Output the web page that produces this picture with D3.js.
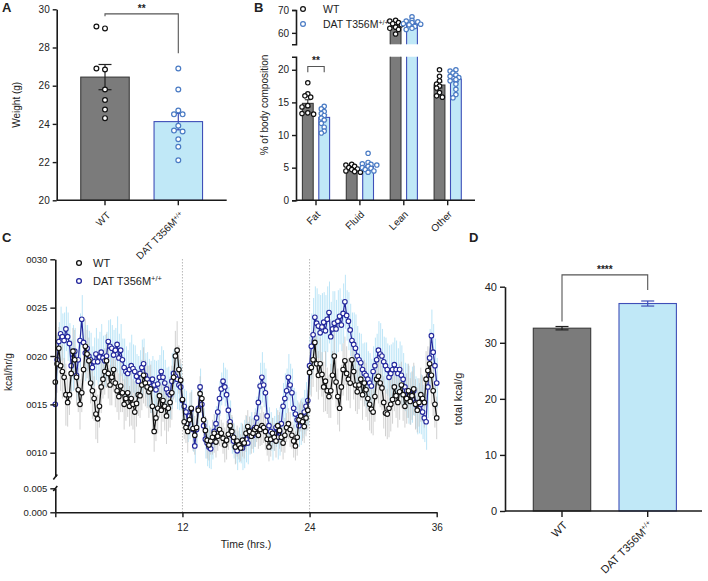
<!DOCTYPE html>
<html><head><meta charset="utf-8">
<script src="https://cdn.jsdelivr.net/npm/d3@7"></script>
<style>
body{margin:0;background:#fff}
text{font-family:"Liberation Sans",Arial,Helvetica,sans-serif;fill:#222}
</style>
</head><body>
<svg id="fig" width="708" height="581"></svg>
<script>
// ---------------- DATA ----------------
const groups = ["WT", "DAT T356M"];
const groupSup = ["", "+/+"];

// Panel A: body weight (g)
const weightWT  = [29.0, 29.1, 26.85, 26.9, 25.8, 25.25, 24.75, 24.3];
const weightDAT = [26.9, 25.8, 24.7, 24.5, 24.5, 23.9, 23.65, 23.6, 23.2, 22.8, 22.1];
const weightMean = [26.45, 24.12];
const weightSEM  = [0.66, 0.43];
const weightTicks = [20, 22, 24, 26, 28, 30];
const sigA = "**";

// Panel B: % of body composition
const compCats = ["Fat", "Fluid", "Lean", "Other"];
const compWTPoints = [
  [18.0, 16.3, 16.0, 15.8, 14.5, 14.3, 13.4, 13.3, 13.2],
  [5.5, 5.4, 5.2, 5.0, 4.8, 4.7, 4.5, 4.4, 4.3],
  [65.5, 65.2, 64.5, 64.0, 63.5, 62.5, 62.0, 61.5, 59.5],
  [20.0, 19.0, 18.3, 17.8, 17.5, 17.2, 16.5, 16.0, 15.8]
];
const compDATPoints = [
  [14.4, 14.0, 13.6, 13.3, 13.0, 12.6, 12.3, 11.8, 11.2, 10.6, 10.3],
  [7.2, 5.8, 5.6, 5.5, 5.4, 5.2, 5.0, 4.9, 4.7, 4.5, 4.3],
  [67.0, 65.5, 65.2, 64.8, 64.5, 64.0, 63.8, 63.5, 62.8, 62.0, 61.5],
  [20.0, 19.8, 19.5, 19.2, 19.0, 18.8, 18.5, 18.3, 17.8, 17.0, 16.2, 15.7]
];
const compMeanWT  = [14.85, 4.84, 62.95, 17.66];
const compMeanDAT = [12.7, 5.15, 64.1, 18.57];
const compSemWT   = [0.55, 0.14, 0.6, 0.45];
const compSemDAT  = [0.4, 0.22, 0.45, 0.4];
const compTicksLow = [0, 5, 10, 15, 20];
const compTicksHigh = [60, 70];
const sigB = "**";

// Panel C: energy expenditure, units of 1e-4 kcal/hr/g, one sample per 10 min (6 per hour)
const sampleHrs = 1 / 6;
const eeWT = [
 17.3,19.2,20.8,19.0,18.4,17.8, 16.0,15.2,16.0,18.2,20.5,19.6, 17.8,16.5,15.0,16.2,18.6,21.0,
 20.2,19.5,17.2,16.4,15.6,14.0, 13.5,14.8,16.8,17.6,18.4,19.5, 18.2,17.0,17.8,18.6,17.2,16.4,
 15.8,16.9,16.2,15.0,15.6,16.2, 14.8,15.6,15.0,14.2,15.1,16.0, 15.9,17.0,18.0,17.2,16.8,16.3,
 16.6,14.8,12.2,13.6,14.6,15.9, 14.4,15.4,14.8,13.8,14.6,15.2, 16.2,17.8,20.0,20.6,18.6,17.5,
 15.5,13.2,12.6,12.2,13.4,14.6, 12.5,11.8,12.6,14.4,16.1,15.6, 13.4,12.3,11.3,10.8,11.2,11.6,
 12.0,11.1,11.7,12.4,12.0,11.5, 10.8,11.3,11.9,12.8,12.2,11.6, 10.6,11.2,10.8,10.5,11.3,11.0,
 12.0,12.7,12.2,11.7,12.0,12.4, 12.6,11.8,12.4,12.8,12.6,12.2, 11.4,10.6,11.4,12.0,11.6,11.2,
 12.8,12.3,11.6,11.0,11.8,12.6, 13.0,12.4,11.8,11.2,10.7,11.6, 13.4,13.8,13.2,12.7,13.6,14.4,
 18.3,18.8,19.6,21.4,19.2,18.0, 19.2,18.1,16.8,17.4,16.4,15.8, 16.4,18.0,20.0,17.3,15.8,14.6,
 16.8,18.6,19.5,18.2,17.6,17.2, 19.6,18.4,17.0,16.3,17.0,17.6, 16.0,17.2,16.5,15.6,15.0,14.5,
 14.2,15.8,17.6,17.9,17.2,16.7, 15.2,14.1,14.0,14.6,15.0,15.5, 16.8,15.9,15.2,16.3,17.0,16.0,
 14.8,15.6,16.4,15.3,15.9,16.6, 15.0,14.4,15.2,16.0,15.6,15.2, 17.6,18.5,19.2,18.0,16.4,15.0,
 13.6];
const eeDAT = [
 15.0,19.6,21.5,22.3,22.0,21.6, 22.8,22.0,21.3,19.0,19.8,20.5, 18.0,19.6,21.6,23.8,21.4,20.3,
 20.8,20.0,19.6,18.8,19.4,20.2, 19.4,19.9,20.4,19.8,19.5,20.0, 21.5,21.0,20.8,20.1,20.6,21.2,
 19.8,20.6,19.6,18.8,18.4,18.2, 18.6,19.0,18.7,18.4,17.9,17.4, 18.2,18.8,19.2,18.0,17.6,17.2,
 16.8,17.6,17.0,16.5,17.1,17.8, 18.4,17.8,17.2,16.6,16.2,16.0, 17.4,18.2,17.9,17.6,17.0,16.8,
 15.4,14.8,14.2,13.0,13.8,14.5, 12.4,10.7,12.4,14.6,16.8,15.0, 12.8,11.4,11.0,10.6,10.4,11.2,
 12.2,13.0,14.2,15.6,16.6,17.4, 16.8,16.0,14.4,13.2,11.8,11.2, 10.6,10.2,10.8,11.0,10.5,10.9,
 11.4,11.0,11.8,12.3,11.8,12.6, 13.6,15.2,16.9,17.8,17.0,16.2, 13.8,12.8,12.2,11.4,12.0,12.6,
 11.6,12.2,13.0,14.8,15.6,16.4, 17.8,17.0,16.2,14.6,14.0,13.4, 12.8,13.2,13.6,14.2,14.8,15.4,
 19.0,21.0,22.2,24.0,23.4,23.1, 22.4,23.0,23.5,22.6,23.8,24.5, 22.0,22.8,23.4,22.8,23.6,24.1,
 23.2,24.4,25.6,24.2,23.6,22.7, 21.6,21.2,20.8,20.0,19.6,19.3, 18.6,18.2,18.0,17.6,17.2,16.9,
 18.4,19.0,19.6,20.6,20.2,20.0, 19.4,19.0,18.6,17.8,18.2,18.6, 19.1,18.6,18.2,18.6,18.0,17.6,
 16.8,16.4,16.0,15.6,16.0,16.4, 15.2,14.8,14.6,15.0,14.2,13.6, 13.2,16.8,19.8,22.1,20.4,19.0,
 17.2];
const sdWT = [
 2.4,3.0,2.2,2.6,2.8,2.0, 3.2,2.5,2.1,2.7,2.4,3.1, 2.9,2.3,2.6,2.0,2.2,2.8, 2.5,2.4,2.1,2.9,2.3,2.6,
 2.5,2.2,2.7,2.0,2.4,2.8, 2.6,2.1,2.9,2.3,2.5,2.2, 2.4,2.7,2.0,2.6,2.3,2.5, 2.1,2.8,2.6,3.2,2.4,2.2,
 2.3,2.6,2.9,2.4,2.2,2.7, 2.5,2.8,2.1,2.4,2.6,2.3, 2.7,2.2,2.5,2.9,2.4,2.6, 2.8,2.3,2.6,3.0,2.5,2.2,
 2.0,1.8,1.6,2.2,1.5,1.7, 2.3,2.0,1.6,1.4,1.8,1.5, 1.7,1.5,1.9,1.6,1.4,1.8, 2.0,1.6,1.5,1.7,1.4,1.6,
 1.8,2.0,1.6,1.9,1.7,1.5, 1.8,1.6,1.5,1.4,1.7,1.6, 1.9,1.7,1.5,1.8,1.6,1.8, 1.5,1.4,1.7,2.0,1.6,1.9,
 1.7,1.5,1.8,1.6,1.4,1.7, 1.6,1.9,1.5,1.7,1.8,1.5, 1.6,1.8,1.4,1.7,1.5,1.9, 1.8,1.6,2.0,1.7,1.9,2.1,
 2.6,3.0,2.8,2.4,2.9,2.5, 2.7,2.3,2.6,3.1,2.4,2.2, 2.8,2.5,2.7,2.6,2.9,2.4, 2.3,2.7,2.5,2.8,2.2,2.6,
 2.4,2.9,2.7,2.3,2.5,2.2, 2.6,2.4,2.8,2.3,2.7,2.5, 2.4,2.6,2.2,2.8,2.5,2.3, 2.7,2.4,2.6,3.0,2.8,2.5,
 2.5,2.3,2.6,2.9,2.4,2.7, 2.2,2.6,2.8,2.4,2.5,2.7, 2.6,2.3,2.5,2.8,2.4,2.6, 2.9,2.5,2.7,3.0,2.6,2.4,
 2.2];
const sdDAT = [
 2.2,2.6,2.0,2.8,2.4,2.9, 2.3,2.5,2.1,2.7,3.4,2.4, 2.6,2.2,2.8,2.5,2.3,2.9, 2.4,2.6,2.8,2.2,2.5,2.7,
 2.4,2.6,2.9,2.3,2.7,2.5, 2.2,2.8,2.4,2.6,2.3,2.9, 2.5,2.7,2.2,3.0,2.6,2.4, 2.8,3.2,2.5,2.7,2.3,2.6,
 2.4,2.9,2.6,2.3,2.8,2.5, 2.7,2.4,2.6,3.0,2.5,2.3, 2.6,2.8,2.4,2.2,2.7,2.5, 2.9,2.5,2.7,3.1,2.6,2.4,
 2.0,1.8,2.2,1.9,2.4,2.0, 2.3,1.8,1.7,2.1,1.9,1.6, 1.8,2.0,2.4,2.2,2.1,1.9, 1.7,1.8,1.6,1.8,1.7,1.9,
 2.0,2.6,2.4,2.2,1.9,1.8, 1.7,2.0,1.8,2.1,2.3,2.5, 2.4,2.2,2.0,1.9,1.8,2.0, 2.2,2.1,2.4,2.6,2.3,2.5,
 2.1,1.9,2.0,2.2,1.8,2.0, 2.3,2.5,2.2,2.4,2.6,2.3, 2.4,2.2,2.5,2.1,2.3,2.0, 2.2,2.4,2.1,2.3,2.5,2.6,
 3.0,3.4,3.8,3.2,3.6,3.3, 3.9,3.5,3.1,3.7,3.4,3.2, 3.6,3.9,3.3,3.0,3.2,2.9, 2.7,3.1,2.8,2.6,3.0,2.7,
 2.9,3.3,3.5,3.1,2.8,3.0, 2.7,3.2,3.4,2.9,3.1,2.8, 2.6,2.9,2.7,3.0,3.2,2.8, 2.6,2.9,2.7,3.3,3.0,2.8,
 2.8,3.0,2.6,2.9,3.1,2.7, 2.5,2.8,3.0,2.7,2.9,2.6, 2.7,2.9,2.6,3.1,2.8,2.5, 2.9,3.2,3.0,2.7,2.9,2.8,
 2.6];
const eeTicksHigh = [0.0010, 0.0015, 0.0020, 0.0025, 0.0030];
const eeTickLabelsHigh = ["0010", "0015", "0020", "0025", "0030"];
const eeTicksLow = [0.000, 0.005];
const eeTickLabelsLow = ["0.000", "0.005"];
const timeTicks = [0, 12, 24, 36];
const timeTickLabels = ["", "12", "24", "36"];
const phaseLines = [12, 24];

// Panel D: total kcal/g
const totalMean = [32.6, 37.0];
const totalSEM  = [0.3, 0.45];
const totalTicks = [0, 10, 20, 30, 40];
const sigD = "****";

// ---------------- STYLE ----------------
const C_AX = "#1a1a1a", C_BARG = "#7b7b7b", C_BARG_E = "#3a3a3a",
      C_BARB = "#c0e8f7", C_BARB_E = "#3f4fb8", C_DOTB = "#4a7bc4",
      C_LINEB = "#23279c", C_ERRG = "#c4c4c4", C_ERRB = "#b4e2f6", C_SIG = "#555";

const svg = d3.select("#fig");

function styleAxis(g, fs) {
  g.selectAll("path.domain").attr("stroke", C_AX).attr("stroke-width", 1.6);
  g.selectAll(".tick line").attr("stroke", C_AX).attr("stroke-width", 1.4);
  g.selectAll(".tick text").attr("fill", "#222").style("font-size", (fs||10) + "px")
    .style("font-family", '"Liberation Sans",Arial,sans-serif');
}
function rotLabel(x, y, main, sup, fs) {
  const t = svg.append("text").attr("transform", `translate(${x},${y}) rotate(-45)`)
    .attr("text-anchor", "end").style("font-size", fs + "px");
  t.append("tspan").text(main);
  if (sup) t.append("tspan").attr("baseline-shift", "super").style("font-size", (fs*0.65) + "px").text(sup);
}
function swarm(vals, ys, cx, r, step, minD) {
  const placed = [];
  const md = minD || 2*r + 0.4;
  return vals.map(v => {
    const y = ys(v);
    const c = [0, -step, step, -2*step, 2*step, -3*step, 3*step];
    for (const o of c) {
      if (placed.every(p => Math.hypot(p.x - (cx + o), p.y - y) >= md)) {
        const p = {x: cx + o, y}; placed.push(p); return p;
      }
    }
    const p = {x: cx, y}; placed.push(p); return p;
  });
}
function dots(pts, stroke, r) {
  svg.append("g").selectAll("circle").data(pts).join("circle")
    .attr("cx", d => d.x).attr("cy", d => d.y).attr("r", r)
    .attr("fill", "#fff").attr("stroke", stroke).attr("stroke-width", 1.2);
}
function errBar(x, y1, y2, w, color, sw) {
  const g = svg.append("g").attr("stroke", color).attr("stroke-width", sw || 1.2);
  g.append("line").attr("x1", x).attr("x2", x).attr("y1", y1).attr("y2", y2);
  g.append("line").attr("x1", x - w/2).attr("x2", x + w/2).attr("y1", y1).attr("y2", y1);
  g.append("line").attr("x1", x - w/2).attr("x2", x + w/2).attr("y1", y2).attr("y2", y2);
}
function bracket(x1, x2, yTop, yL, yR, label, fs) {
  svg.append("path").attr("d", `M${x1},${yL}V${yTop}H${x2}V${yR}`)
    .attr("fill", "none").attr("stroke", C_SIG).attr("stroke-width", 1.1);
  svg.append("text").attr("x", (x1 + x2)/2).attr("y", yTop - 2).attr("text-anchor", "middle")
    .style("font-size", (fs||10) + "px").style("font-weight", "bold").attr("fill", "#333").text(label);
}
function panelLetter(x, y, s) {
  svg.append("text").attr("x", x).attr("y", y).style("font-size", "13px")
    .style("font-weight", "bold").attr("fill", "#000").text(s);
}

// ---------------- PANEL A ----------------
{
  const x0 = 56.7, x1 = 226.7;
  const y = d3.scaleLinear().domain([20, 30]).range([200.3, 9.3]);
  const x = d3.scalePoint().domain(groups).range([105, 178.3]);
  const bw = 48.5;
  const fills = [C_BARG, C_BARB], edges = [C_BARG_E, C_BARB_E];
  groups.forEach((g, i) => {
    svg.append("rect").attr("x", x(g) - bw/2).attr("width", bw)
      .attr("y", y(weightMean[i])).attr("height", y(20) - y(weightMean[i]))
      .attr("fill", fills[i]).attr("stroke", edges[i]).attr("stroke-width", 1.1);
  });
  errBar(x(groups[0]), y(weightMean[0] + weightSEM[0]), y(weightMean[0] - weightSEM[0]), 13, "#222");
  errBar(x(groups[1]), y(weightMean[1] + weightSEM[1]), y(weightMean[1] - weightSEM[1]), 13, C_BARB_E);
  dots(swarm(weightWT, y, x(groups[0]), 2.4, 4.3), "#111", 2.4);
  dots(swarm(weightDAT, y, x(groups[1]), 2.4, 4.3), C_DOTB, 2.4);
  const ga = svg.append("g").attr("transform", `translate(${x0},0)`)
    .call(d3.axisLeft(y).tickValues(weightTicks).tickSize(4).tickSizeOuter(0).tickFormat(d3.format("d")));
  styleAxis(ga, 10);
  svg.append("line").attr("x1", x0).attr("x2", x1).attr("y1", y(20)).attr("y2", y(20))
    .attr("stroke", C_AX).attr("stroke-width", 1.6);
  groups.forEach((g, i) => {
    svg.append("line").attr("x1", x(g)).attr("x2", x(g)).attr("y1", y(20)).attr("y2", y(20) + 5)
      .attr("stroke", C_AX).attr("stroke-width", 1.4);
    rotLabel(x(g) + 6, 216, g, groupSup[i], 10);
  });
  svg.append("text").attr("transform", `translate(20,${(y(20)+y(30))/2}) rotate(-90)`)
    .attr("text-anchor", "middle").style("font-size", "10px").text("Weight (g)");
  bracket(x(groups[0]), x(groups[1]), y(29.76), y(29.64), y(27.7), sigA);
  panelLetter(2, 12, "A");
}

// ---------------- PANEL B ----------------
{
  const x0 = 296, x1 = 475;
  const yLo = d3.scaleLinear().domain([0, 22]).range([200.3, 56.7]);
  const yHi = d3.scaleLinear().domain([55, 70]).range([44.3, 10]);
  const x = d3.scalePoint().domain(compCats).range([316, 447.7]);
  const bw = 10.8, off = 8.2;
  const yOf = v => v > 22 ? yHi(v) : yLo(v);
  function drawBar(cx, mean, fill, edge) {
    if (mean <= 22) {
      svg.append("rect").attr("x", cx - bw/2).attr("width", bw).attr("y", yLo(mean))
        .attr("height", yLo(0) - yLo(mean)).attr("fill", fill).attr("stroke", edge).attr("stroke-width", 1.1);
    } else {
      svg.append("path").attr("d", `M${cx-bw/2},${yLo(22)}V${yLo(0)}H${cx+bw/2}V${yLo(22)}`)
        .attr("fill", fill).attr("stroke", edge).attr("stroke-width", 1.1);
      svg.append("path").attr("d", `M${cx-bw/2},${yHi(55)}V${yHi(mean)}H${cx+bw/2}V${yHi(55)}`)
        .attr("fill", fill).attr("stroke", edge).attr("stroke-width", 1.1);
    }
  }
  compCats.forEach((c, i) => {
    const cw = x(c) - off, cd = x(c) + off;
    drawBar(cw, compMeanWT[i], C_BARG, C_BARG_E);
    drawBar(cd, compMeanDAT[i], C_BARB, C_BARB_E);
    errBar(cw, yOf(compMeanWT[i] + compSemWT[i]), yOf(compMeanWT[i] - compSemWT[i]), 6, "#222", 1);
    errBar(cd, yOf(compMeanDAT[i] + compSemDAT[i]), yOf(compMeanDAT[i] - compSemDAT[i]), 6, C_BARB_E, 1);
    const ysc = compMeanWT[i] > 22 ? yHi : yLo;
    dots(swarm(compWTPoints[i], ysc, cw, 2.2, 2.9, 3.4), "#111", 2.2);
    dots(swarm(compDATPoints[i], ysc, cd, 2.2, 2.9, 3.4), C_DOTB, 2.2);
  });
  const gl = svg.append("g").attr("transform", `translate(${x0},0)`)
    .call(d3.axisLeft(yLo).tickValues(compTicksLow).tickSize(4).tickSizeOuter(4));
  styleAxis(gl, 10);
  const gh = svg.append("g").attr("transform", `translate(${x0},0)`)
    .call(d3.axisLeft(yHi).tickValues(compTicksHigh).tickSize(4).tickSizeOuter(4));
  styleAxis(gh, 10);
  svg.append("line").attr("x1", x0).attr("x2", x1).attr("y1", yLo(0)).attr("y2", yLo(0))
    .attr("stroke", C_AX).attr("stroke-width", 1.6);
  compCats.forEach(c => {
    svg.append("line").attr("x1", x(c)).attr("x2", x(c)).attr("y1", yLo(0)).attr("y2", yLo(0) + 5)
      .attr("stroke", C_AX).attr("stroke-width", 1.4);
    rotLabel(x(c) + 5, 215, c, "", 10);
  });
  svg.append("text").attr("transform", `translate(268,${105}) rotate(-90)`)
    .attr("text-anchor", "middle").style("font-size", "10px").text("% of body composition");
  bracket(x("Fat") - off, x("Fat") + off, yLo(20.5), yLo(19.6), yLo(19.6), sigB);
  [["WT", "", "#111", 9], ["DAT T356M", "+/+", C_DOTB, 24]].forEach(([t, s, col, yy]) => {
    svg.append("circle").attr("cx", 303).attr("cy", yy).attr("r", 2.4).attr("fill", "#fff")
      .attr("stroke", col).attr("stroke-width", 1.2);
    const tx = svg.append("text").attr("x", 323).attr("y", yy + 4).style("font-size", "10.5px");
    tx.append("tspan").text(t);
    if (s) tx.append("tspan").attr("baseline-shift", "super").style("font-size", "7px").text(s);
  });
  panelLetter(254, 12, "B");
}

// ---------------- PANEL C ----------------
{
  const x0 = 55.3, x1 = 436.7;
  const x = d3.scaleLinear().domain([0, 36]).range([x0, x1]);
  const yHi = d3.scaleLinear().domain([0.000754, 0.0030]).range([476.5, 259.3]);
  const yLo = d3.scaleLinear().domain([0, 0.005]).range([512.3, 488.3]);
  const U = 1e-4;
  phaseLines.forEach(h => {
    svg.append("line").attr("x1", x(h)).attr("x2", x(h)).attr("y1", 259).attr("y2", 512)
      .attr("stroke", "#b8b8b8").attr("stroke-width", 1).attr("stroke-dasharray", "1.5,1.5");
  });
  const n = Math.min(eeWT.length, eeDAT.length, sdWT.length, sdDAT.length);
  const idx = d3.range(n);
  svg.append("g").selectAll("line").data(idx).join("line")
    .attr("x1", i => x(i*sampleHrs) + 0.5).attr("x2", i => x(i*sampleHrs) + 0.5)
    .attr("y1", i => yHi((eeDAT[i] - sdDAT[i]) * U)).attr("y2", i => yHi((eeDAT[i] + sdDAT[i]) * U))
    .attr("stroke", C_ERRB).attr("stroke-width", 0.9);
  svg.append("g").selectAll("line").data(idx).join("line")
    .attr("x1", i => x(i*sampleHrs)).attr("x2", i => x(i*sampleHrs))
    .attr("y1", i => yHi((eeWT[i] - sdWT[i]) * U)).attr("y2", i => yHi((eeWT[i] + sdWT[i]) * U))
    .attr("stroke", C_ERRG).attr("stroke-width", 0.9).attr("opacity", 0.85);
  const lineDAT = d3.line().x(i => x(i*sampleHrs)).y(i => yHi(eeDAT[i] * U));
  const lineWT = d3.line().x(i => x(i*sampleHrs)).y(i => yHi(eeWT[i] * U));
  svg.append("path").attr("d", lineDAT(idx)).attr("fill", "none").attr("stroke", C_LINEB).attr("stroke-width", 1.2);
  svg.append("g").selectAll("circle").data(idx).join("circle")
    .attr("cx", i => x(i*sampleHrs)).attr("cy", i => yHi(eeDAT[i] * U)).attr("r", 2.3)
    .attr("fill", "#fff").attr("stroke", C_LINEB).attr("stroke-width", 1.1);
  svg.append("path").attr("d", lineWT(idx)).attr("fill", "none").attr("stroke", "#111").attr("stroke-width", 1.2);
  svg.append("g").selectAll("circle").data(idx).join("circle")
    .attr("cx", i => x(i*sampleHrs)).attr("cy", i => yHi(eeWT[i] * U)).attr("r", 2.3)
    .attr("fill", "#fff").attr("stroke", "#111").attr("stroke-width", 1.1);
  const gh = svg.append("g").attr("transform", `translate(${x0},0)`)
    .call(d3.axisLeft(yHi).tickValues(eeTicksHigh).tickSize(5).tickSizeOuter(0)
      .tickFormat((d, i) => eeTickLabelsHigh[i]));
  styleAxis(gh, 9.5);
  const gl = svg.append("g").attr("transform", `translate(${x0},0)`)
    .call(d3.axisLeft(yLo).tickValues(eeTicksLow).tickSize(5).tickSizeOuter(0)
      .tickFormat((d, i) => eeTickLabelsLow[i]));
  styleAxis(gl, 9.5);
  [[x0 - 2, 479.5, x0 + 2, 474.5], [x0 - 2, 491, x0 + 2, 486]].forEach(([a, b, c, d]) => {
    svg.append("line").attr("x1", a).attr("y1", b).attr("x2", c).attr("y2", d)
      .attr("stroke", C_AX).attr("stroke-width", 1.6);
  });
  const gx = svg.append("g").attr("transform", `translate(0,${yLo(0)})`)
    .call(d3.axisBottom(x).tickValues(timeTicks).tickSize(5).tickSizeOuter(0)
      .tickFormat((d, i) => timeTickLabels[i]));
  styleAxis(gx, 10);
  gx.selectAll(".tick text").attr("dy", "1.1em");
  svg.append("text").attr("x", (x0 + x1)/2).attr("y", 548).attr("text-anchor", "middle")
    .style("font-size", "10.5px").text("Time (hrs.)");
  svg.append("text").attr("transform", `translate(12,372) rotate(-90)`)
    .attr("text-anchor", "middle").style("font-size", "10px").text("kcal/hr/g");
  [["WT", "", "#111", 263], ["DAT T356M", "+/+", C_LINEB, 281]].forEach(([t, s, col, yy]) => {
    svg.append("circle").attr("cx", 79).attr("cy", yy).attr("r", 2.4).attr("fill", "#fff")
      .attr("stroke", col).attr("stroke-width", 1.3);
    const tx = svg.append("text").attr("x", 93).attr("y", yy + 4).style("font-size", "11px");
    tx.append("tspan").text(t);
    if (s) tx.append("tspan").attr("baseline-shift", "super").style("font-size", "7.5px").text(s);
  });
  panelLetter(2, 242, "C");
}

// ---------------- PANEL D ----------------
{
  const x0 = 505, x1 = 702;
  const y = d3.scaleLinear().domain([0, 40]).range([511, 286.7]);
  const x = d3.scalePoint().domain(groups).range([562, 647.7]);
  const bw = 57.4;
  const fills = [C_BARG, C_BARB], edges = [C_BARG_E, C_BARB_E];
  groups.forEach((g, i) => {
    svg.append("rect").attr("x", x(g) - bw/2).attr("width", bw)
      .attr("y", y(totalMean[i])).attr("height", y(0) - y(totalMean[i]))
      .attr("fill", fills[i]).attr("stroke", edges[i]).attr("stroke-width", 1.1);
  });
  errBar(x(groups[0]), y(totalMean[0] + totalSEM[0]), y(totalMean[0] - totalSEM[0]), 13, "#222");
  errBar(x(groups[1]), y(totalMean[1] + totalSEM[1]), y(totalMean[1] - totalSEM[1]), 13, C_BARB_E);
  const ga = svg.append("g").attr("transform", `translate(${x0},0)`)
    .call(d3.axisLeft(y).tickValues(totalTicks).tickSize(5).tickSizeOuter(0));
  styleAxis(ga, 11);
  svg.append("line").attr("x1", x0).attr("x2", x1).attr("y1", y(0)).attr("y2", y(0))
    .attr("stroke", C_AX).attr("stroke-width", 1.6);
  groups.forEach((g, i) => {
    svg.append("line").attr("x1", x(g)).attr("x2", x(g)).attr("y1", y(0)).attr("y2", y(0) + 6)
      .attr("stroke", C_AX).attr("stroke-width", 1.4);
    rotLabel(x(g) + 6, 526, g, groupSup[i], 11);
  });
  svg.append("text").attr("transform", `translate(462,${(y(0)+y(40))/2}) rotate(-90)`)
    .attr("text-anchor", "middle").style("font-size", "11px").text("total kcal/g");
  bracket(x(groups[0]), x(groups[1]), y(42.1), y(33.8), y(39.4), sigD, 10);
  panelLetter(469, 242, "D");
}
</script>
</body></html>
